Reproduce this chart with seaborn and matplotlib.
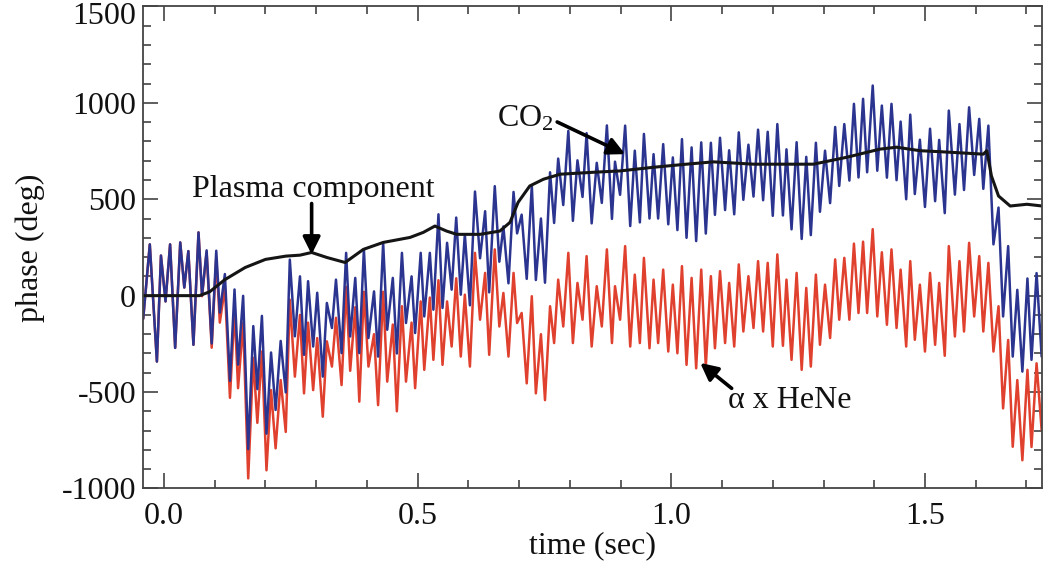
import numpy as np
import pandas as pd
import matplotlib
matplotlib.use("Agg")
import matplotlib.pyplot as plt
import matplotlib.transforms as mtransforms
import seaborn as sns
from matplotlib.ticker import MultipleLocator

# ---- data (time in s, phase in deg) ----
peak_time = [-0.028, -0.006, 0.012, 0.032, 0.048, 0.068, 0.084, 0.103, 0.120, 0.139,
             0.156, 0.176, 0.193, 0.211, 0.230, 0.248, 0.268, 0.284, 0.302, 0.321,
             0.339, 0.359, 0.377, 0.394, 0.414, 0.432, 0.451, 0.469, 0.488, 0.506,
             0.524, 0.541, 0.558, 0.576, 0.593, 0.613, 0.633, 0.652, 0.669, 0.689,
             0.705, 0.725, 0.743, 0.761, 0.777, 0.797, 0.815, 0.833, 0.853, 0.873,
             0.889, 0.909, 0.928, 0.946, 0.965, 0.984, 1.003, 1.021, 1.040, 1.059,
             1.078, 1.096, 1.114, 1.133, 1.152, 1.171, 1.190, 1.209, 1.227, 1.247,
             1.266, 1.285, 1.303, 1.323, 1.341, 1.360, 1.378, 1.397, 1.415, 1.434,
             1.452, 1.471, 1.490, 1.510, 1.528, 1.547, 1.568, 1.587, 1.607, 1.625,
             1.645, 1.664, 1.682, 1.702, 1.720]
trough_time = [-0.014, 0.003, 0.022, 0.040, 0.058, 0.075, 0.094, 0.110, 0.130, 0.146,
               0.166, 0.184, 0.202, 0.220, 0.240, 0.258, 0.276, 0.294, 0.313, 0.331,
               0.350, 0.367, 0.385, 0.403, 0.422, 0.440, 0.459, 0.477, 0.495, 0.513,
               0.531, 0.549, 0.567, 0.585, 0.603, 0.623, 0.641, 0.661, 0.679, 0.696,
               0.715, 0.733, 0.751, 0.769, 0.787, 0.806, 0.825, 0.843, 0.863, 0.883,
               0.899, 0.919, 0.938, 0.957, 0.974, 0.994, 1.012, 1.030, 1.049, 1.068,
               1.086, 1.106, 1.124, 1.142, 1.162, 1.181, 1.200, 1.220, 1.237, 1.257,
               1.275, 1.293, 1.313, 1.331, 1.351, 1.369, 1.386, 1.406, 1.425, 1.444,
               1.463, 1.480, 1.500, 1.520, 1.539, 1.559, 1.577, 1.597, 1.615, 1.635,
               1.654, 1.673, 1.692, 1.710, 1.730]

hene_peak = [266, 208, 266, 276, 231, 328, 225, 198, 42, -73, -141, -323, -290, -490, -438, -21,
             -100, -140, -220, -237, -115, 45, -60, 20, -200, 20, -150, -55, -140, -30, -10, 80, -30, 90, 5,
             222, 118, 240, 14, 118, -90, -3, -200, -55, 83, 222, 66, 205, 49, 240, 49,
             257, 109, 196, 83, 135, 57, 153, 92, 135, 101, 127, 66, 162, 101, 179, 170, 214,
             83, 118, 40, 109, 57, 188, 196, 270, 280, 345, 225, 240, 135, 179, 57, 118, 66,
             257, 179, 274, 205, 170, -55, -230, -438, -385, -351]
hene_trough = [-342, -30, -271, 42, -255, -3, -270, -140, -530, -480, -948, -660, -906, -792, -707, -420,
               -507, -490, -628, -368, -464, -390, -550, -368, -568, -446, -600, -446, -480, -385, -333, -359, -264, -316, -368,
               -125, -307, -160, -316, -142, -455, -507, -542, -246, -160, -246, -125, -264, -160, -246, -125,
               -264, -246, -273, -246, -290, -299, -359, -377, -368, -273, -246, -264, -186, -168, -186, -264, -260,
               -333, -385, -368, -255, -220, -125, -125, -90, -90, -108, -151, -168, -264, -229, -290, -255, -312,
               -212, -186, -108, -186, -290, -585, -784, -854, -785, -698]

co2_peak = [266, 208, 266, 276, 231, 328, 235, 233, 112, 32, -1, -158, -105, -295, -235, 187,
            100, 75, 15, -38, 83, 222, 92, 240, 22, 274, 92, 222, 100, 222, 222, 422, 274, 405, 318,
            540, 438, 568, 359, 538, 420, 572, 400, 640, 711, 855, 702, 843, 689, 883, 695,
            882, 752, 839, 734, 786, 717, 812, 769, 795, 793, 819, 754, 847, 783, 861, 850, 890,
            759, 796, 720, 793, 752, 875, 890, 995, 1021, 1090, 986, 995, 903, 939, 809, 866, 808,
            960, 890, 977, 917, 882, 457, 257, 30, 89, 117]
co2_trough = [-342, -30, -271, 42, -255, 2, -248, -88, -442, -358, -796, -485, -716, -593, -502, -211,
              -307, -264, -420, -168, -298, -212, -298, -220, -316, -177, -300, -142, -194, -108, -73, -64, 31, 5, -50,
              194, 17, 176, 64, 323, 87, 81, 67, 377, 470, 388, 512, 375, 481, 398, 523,
              361, 380, 400, 400, 370, 340, 300, 283, 322, 419, 444, 422, 497, 514, 495, 414, 416,
              344, 294, 314, 435, 480, 569, 597, 613, 640, 648, 612, 599, 500, 527, 460, 490, 428,
              524, 548, 626, 554, 266, -108, -316, -394, -333, -316]

start_time = -0.041
start_hene = -120
start_co2 = -120

plasma_time = [-0.041, 0.0, 0.07, 0.09, 0.12, 0.16, 0.20, 0.24, 0.268, 0.291, 0.321, 0.357,
               0.393, 0.432, 0.485, 0.511, 0.534, 0.557, 0.577, 0.623, 0.662, 0.682, 0.698,
               0.721, 0.748, 0.781, 0.846, 0.899, 0.965, 1.030, 1.083, 1.162, 1.234, 1.280,
               1.346, 1.411, 1.444, 1.490, 1.549, 1.615, 1.622, 1.631, 1.645, 1.668, 1.701, 1.731]
plasma_phase = [0, 0, 0, 20, 83, 146, 188, 205, 210, 224, 198, 172,
                240, 276, 302, 328, 361, 335, 318, 318, 335, 380, 484,
                569, 604, 630, 640, 647, 666, 682, 694, 682, 682, 682,
                718, 760, 770, 752, 744, 734, 752, 621, 517, 465, 474, 465]

x_ticks = [0.0, 0.5, 1.0, 1.5]
x_ticklabels = ["0.0", "0.5", "1.0", "1.5"]
y_ticks = [-1000, -500, 0, 500, 1000, 1500]
y_ticklabels = ["-1000", "-500", "0", "500", "1000", "1500"]

# ---- build long tables ----
def interleave(a, b):
    return np.column_stack([np.asarray(a, float), np.asarray(b, float)]).ravel()

t_ext = np.concatenate([[start_time], interleave(peak_time, trough_time)])
hene_df = pd.DataFrame({"time": t_ext,
                        "phase": np.concatenate([[start_hene], interleave(hene_peak, hene_trough)])})
co2_df = pd.DataFrame({"time": t_ext,
                       "phase": np.concatenate([[start_co2], interleave(co2_peak, co2_trough)])})
plasma_df = pd.DataFrame({"time": plasma_time, "phase": plasma_phase})

# ---- style ----
sns.set_style("ticks")
plt.rcParams["font.family"] = ["Liberation Serif", "DejaVu Serif"]
plt.rcParams["mathtext.default"] = "regular"

RED = "#e0402e"
BLUE = "#2b3590"
BLACK = "#151515"
FS = 23

fig = plt.figure(figsize=(10.47, 5.61), dpi=100)
ax = fig.add_axes([143 / 1047, 1 - 488.4 / 561, (1042 - 143) / 1047, (488.4 - 6.5) / 561])

line_kw = dict(sort=False, estimator=None, solid_joinstyle="round", solid_capstyle="round")
sns.lineplot(data=hene_df, x="time", y="phase", ax=ax, color=RED, lw=1.8, **line_kw)
sns.lineplot(data=co2_df, x="time", y="phase", ax=ax, color=BLUE, lw=1.8, **line_kw)
sns.lineplot(data=plasma_df, x="time", y="phase", ax=ax, color=BLACK, lw=2.2, **line_kw)

ax.set_xlim(-0.0414, 1.7307)
ax.set_ylim(-1000, 1500)
ax.set_xticks(x_ticks)
ax.set_xticklabels(x_ticklabels)
ax.set_yticks(y_ticks)
ax.set_yticklabels(y_ticklabels)
ax.xaxis.set_minor_locator(MultipleLocator(0.1))
ax.yaxis.set_minor_locator(MultipleLocator(100))
ax.tick_params(which="both", direction="in", top=True, right=True,
               labelsize=FS, colors="#333333", labelcolor="#111111", width=1.1)
ax.tick_params(axis="x", which="both", pad=10)
ax.tick_params(axis="y", which="both", pad=5)
ax.tick_params(which="major", length=11)
ax.tick_params(which="minor", length=6)
for s in ax.spines.values():
    s.set_color("#444444")
    s.set_linewidth(1.3)

# keep the top tick label inside the picture
top_label = ax.get_yticklabels()[-1]
top_label.set_transform(top_label.get_transform() +
                        mtransforms.ScaledTranslation(0, -5 / 72, fig.dpi_scale_trans))

ax.set_xlabel("time (sec)", fontsize=FS, color="#111111", labelpad=0)
ax.set_ylabel("phase (deg)", fontsize=FS, color="#111111", labelpad=12)

arrow = dict(arrowstyle="-|>", color="black", lw=2.6, mutation_scale=26,
             shrinkA=0, shrinkB=0)
ax.text(0.294, 552, "Plasma component", fontsize=FS, ha="center", va="center", color="#111111")
ax.annotate("", xy=(0.291, 214), xytext=(0.291, 478), arrowprops=arrow)

ax.text(0.712, 917, r"CO$_{2}$", fontsize=FS, ha="center", va="center", color="#111111")
ax.annotate("", xy=(0.909, 734), xytext=(0.775, 901), arrowprops=arrow)

ax.text(1.234, -542, "α x HeNe", fontsize=FS, ha="center", va="center", color="#111111")
ax.annotate("", xy=(1.057, -349), xytext=(1.119, -481), arrowprops=arrow)

fig.savefig("out.png", dpi=100)
